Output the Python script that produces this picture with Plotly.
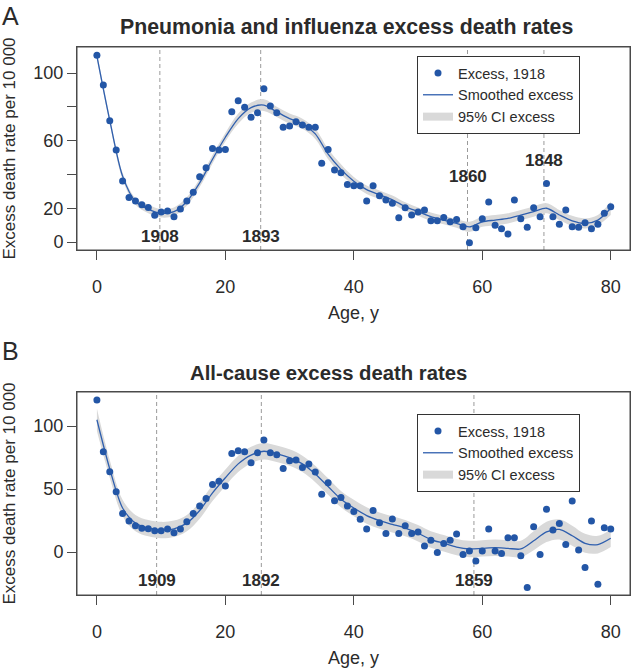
import plotly.graph_objects as go

# ---------------- data ----------------
ages = list(range(0, 81))
excess_A = [110.5, 92.9, 71.8, 54.4, 36.1, 26.4, 24.3, 22.1, 20.5, 15.8,
            17.8, 18.3, 15.0, 19.5, 24.3, 29.4, 38.7, 44.0, 55.4, 54.4,
            54.8, 77.1, 83.6, 79.7, 73.8, 76.5, 90.7, 80.5, 76.5, 67.9,
            68.6, 71.2, 69.2, 67.9, 67.9, 46.6, 54.8, 42.6, 41.0, 34.1,
            33.3, 33.3, 24.3, 33.3, 27.4, 24.9, 22.9, 14.4, 20.3, 16.0,
            17.8, 18.9, 12.6, 12.6, 14.6, 12.0, 13.4, 9.1, -0.4, 8.5,
            13.8, 23.7, 9.9, 7.9, 4.7, 24.9, 13.8, 8.7, 20.3, 15.0,
            34.7, 15.0, 10.5, 18.9, 9.1, 8.7, 11.4, 7.9, 10.5, 17.0,
            20.9]
excess_B = [120.6, 79.6, 63.7, 47.9, 30.7, 24.6, 20.9, 19.0, 18.5, 16.9,
            16.9, 18.3, 15.3, 18.3, 24.1, 30.7, 36.5, 42.6, 53.7, 56.3,
            52.4, 78.3, 80.4, 79.6, 70.9, 78.8, 88.9, 78.8, 77.2, 66.4,
            72.5, 73.0, 67.2, 69.8, 63.5, 46.0, 55.0, 40.7, 43.4, 36.5,
            32.3, 26.0, 18.3, 33.0, 23.3, 14.8, 26.2, 14.8, 20.9, 14.8,
            15.9, 4.9, 9.5, -0.3, 6.9, 9.5, 14.3, -1.9, 0.8, -7.1,
            0.8, 18.3, 0.8, -1.1, 11.4, 11.4, -2.9, -28.0, 20.1, -1.9,
            34.1, 17.5, 22.8, 6.1, 40.5, 1.6, -12.2, 24.6, -25.4, 19.3,
            18.3]

smooth_ages = list(range(0, 81, 2))
smooth_A = [110, 72, 39, 24, 19.5, 17, 18, 24, 35, 49,
            62, 73, 79.5, 81, 77, 73, 70, 64, 52, 43,
            36, 31, 28, 25, 21, 18, 15, 13, 11, 9,
            12, 13, 14, 16, 18, 20, 16, 12.5, 11, 13,
            20]
ci_half_A = [2, 2, 2, 2, 2.5, 2.5, 2.5, 2.5, 2.5, 2.5,
             2.5, 3, 3, 3.5, 3, 3, 3, 3, 3, 3,
             2.5, 2.5, 2.5, 2.5, 2.5, 2.5, 2.5, 2.5, 2.5, 3,
             3, 3, 3, 3, 3, 3, 3, 3, 3, 3,
             4]
smooth_B = [105, 66, 35, 23, 19, 17.5, 18.5, 23, 33, 47,
            59, 70, 77, 80, 78, 75, 70, 62, 52, 42,
            35, 29, 25, 22, 19, 15, 10, 7, 4, 2.5,
            3, 3.5, 3, 2.5, 9, 16, 18, 13, 7, 6,
            11]
ci_half_B = [9, 7, 6.5, 6.5, 6.5, 6.5, 6.5, 6.5, 6.5, 6.5,
             6.5, 6.5, 6.5, 6.5, 6.5, 6.5, 6.5, 6.5, 6.5, 6.5,
             6.5, 6.5, 6.5, 6.5, 6.5, 6.5, 6.5, 6.5, 6.5, 6.5,
             6.5, 6.5, 6.5, 6.5, 7.5, 8, 8, 8, 7.5, 7,
             7]

peak_ages_A = [9.8, 25.5, 57.7, 69.6]
cohort_A = ["1908", "1893", "1860", "1848"]
peak_ages_B = [9.3, 25.6, 58.7]
cohort_B = ["1909", "1892", "1859"]

title_A = "Pneumonia and influenza excess death rates"
title_B = "All-cause excess death rates"

# ---------------- styles ----------------
FONT = "Liberation Sans, Arial, Helvetica, sans-serif"
DOT = "#2356a6"
LINE = "#2f5fae"
BAND = "#d9d9d9"
AX = "#4a4a4a"
TXT = "#2b2b2b"

fig = go.Figure()


def add_panel(xa, ya, legend, excess, smooth, half):
    upper = [s + h for s, h in zip(smooth, half)]
    lower = [s - h for s, h in zip(smooth, half)]
    fig.add_trace(go.Scatter(x=smooth_ages, y=lower, mode="lines", line=dict(width=0, shape="spline"),
                             xaxis=xa, yaxis=ya, showlegend=False, hoverinfo="skip"))
    fig.add_trace(go.Scatter(x=smooth_ages, y=upper, mode="lines", line=dict(width=0, shape="spline"),
                             fill="tonexty", fillcolor=BAND, xaxis=xa, yaxis=ya,
                             showlegend=False, hoverinfo="skip"))
    fig.add_trace(go.Scatter(x=[None], y=[None], mode="lines", line=dict(color=BAND, width=8),
                             name="95% CI excess", xaxis=xa, yaxis=ya, legend=legend, legendrank=3))
    fig.add_trace(go.Scatter(x=smooth_ages, y=smooth, mode="lines",
                             line=dict(color=LINE, width=1.3, shape="spline", smoothing=0.8),
                             name="Smoothed excess", xaxis=xa, yaxis=ya, legend=legend, legendrank=2))
    fig.add_trace(go.Scatter(x=ages, y=excess, mode="markers",
                             marker=dict(color=DOT, size=7), name="Excess, 1918",
                             xaxis=xa, yaxis=ya, legend=legend, legendrank=1))


add_panel("x", "y", "legend", excess_A, smooth_A, ci_half_A)
add_panel("x2", "y2", "legend2", excess_B, smooth_B, ci_half_B)

# dashed cohort lines and labels
for a, lab, ly in zip(peak_ages_A, cohort_A, [3, 3, 38.6, 48.1]):
    fig.add_shape(type="line", xref="x", yref="y domain", x0=a, x1=a, y0=0, y1=1,
                  line=dict(color="#9a9a9a", width=1, dash="4px,3px"), layer="below")
    fig.add_annotation(x=a, y=ly, xref="x", yref="y", text="<b>%s</b>" % lab, showarrow=False,
                       font=dict(family=FONT, size=17, color=TXT))
for a, lab in zip(peak_ages_B, cohort_B):
    fig.add_shape(type="line", xref="x2", yref="y2 domain", x0=a, x1=a, y0=0, y1=1,
                  line=dict(color="#9a9a9a", width=1, dash="4px,3px"), layer="below")
    fig.add_annotation(x=a, y=-22.2, xref="x2", yref="y2", text="<b>%s</b>" % lab, showarrow=False,
                       font=dict(family=FONT, size=17, color=TXT))

# plot frames (box around each panel)
for xr, yr in (("x domain", "y domain"), ("x2 domain", "y2 domain")):
    fig.add_shape(type="rect", xref=xr, yref=yr, x0=0, x1=1, y0=0, y1=1,
                  line=dict(color=AX, width=1), fillcolor="rgba(0,0,0,0)", layer="above")

W, H = 631, 668
ML, MR, MT, MB = 77, 1, 47, 73
PW, PH = W - ML - MR, H - MT - MB


def px_x(p):
    return (p - ML) / PW


def px_y(p):
    return 1 - (p - MT) / PH


# titles and panel letters
fig.add_annotation(x=px_x(346), y=px_y(27.5), xref="paper", yref="paper", text="<b>%s</b>" % title_A,
                   showarrow=False, font=dict(family=FONT, size=21.3, color=TXT), xanchor="center", yanchor="middle")
fig.add_annotation(x=px_x(328.5), y=px_y(373), xref="paper", yref="paper", text="<b>%s</b>" % title_B,
                   showarrow=False, font=dict(family=FONT, size=20.3, color=TXT), xanchor="center", yanchor="middle")
fig.add_annotation(x=px_x(0), y=px_y(0), xref="paper", yref="paper", text="A", showarrow=False,
                   font=dict(family=FONT, size=25, color=TXT), xanchor="left", yanchor="top")
fig.add_annotation(x=px_x(0), y=px_y(335), xref="paper", yref="paper", text="B", showarrow=False,
                   font=dict(family=FONT, size=25, color=TXT), xanchor="left", yanchor="top")

tickfont = dict(family=FONT, size=18, color=TXT)
titlefont = dict(family=FONT, size=18, color=TXT)
ytitlefont = dict(family=FONT, size=17, color=TXT)
axis_common = dict(showline=True, mirror=True, linecolor=AX, linewidth=1, ticks="outside",
                   ticklen=9, tickcolor=AX, tickwidth=1, showgrid=False, zeroline=False,
                   tickfont=tickfont, automargin=False)

legend_common = dict(xanchor="left", yanchor="top", bordercolor="#333", borderwidth=1,
                     bgcolor="white", font=dict(family=FONT, size=14.5, color=TXT),
                     itemwidth=30, traceorder="normal")

fig.update_layout(
    width=W, height=H,
    margin=dict(l=ML, r=MR, t=MT, b=MB, autoexpand=False),
    paper_bgcolor="white", plot_bgcolor="white",
    font=dict(family=FONT, color=TXT),
    xaxis=dict(domain=[0, 1], range=[-3.1, 83.0], tickvals=[0, 20, 40, 60, 80], anchor="y",
               ticklabelstandoff=11,
               title=dict(text="Age, y", font=titlefont, standoff=10), **axis_common),
    yaxis=dict(domain=[px_y(250), 1], range=[-4.7, 115.4], anchor="x",
               tickvals=[0, 20, 40, 60, 80, 100], ticktext=["0", "20", "", "60", "", "100"],
               title=dict(text="Excess death rate per 10 000", font=ytitlefont, standoff=14),
               **axis_common),
    xaxis2=dict(domain=[0, 1], range=[-3.1, 83.0], tickvals=[0, 20, 40, 60, 80], anchor="y2",
                ticklabelstandoff=11,
                title=dict(text="Age, y", font=titlefont, standoff=10), **axis_common),
    yaxis2=dict(domain=[0, px_y(392)], range=[-34, 127], anchor="x2",
                tickvals=[0, 50, 100],
                title=dict(text="Excess death rate per 10 000", font=ytitlefont, standoff=14),
                **axis_common),
    legend=dict(x=px_x(417), y=px_y(56), **legend_common),
    legend2=dict(x=px_x(417), y=px_y(414), **legend_common),
    showlegend=True,
)

fig.write_html("out.html", config={"displayModeBar": False},
               post_script="document.body.style.margin='0px';document.body.style.padding='0px';")
